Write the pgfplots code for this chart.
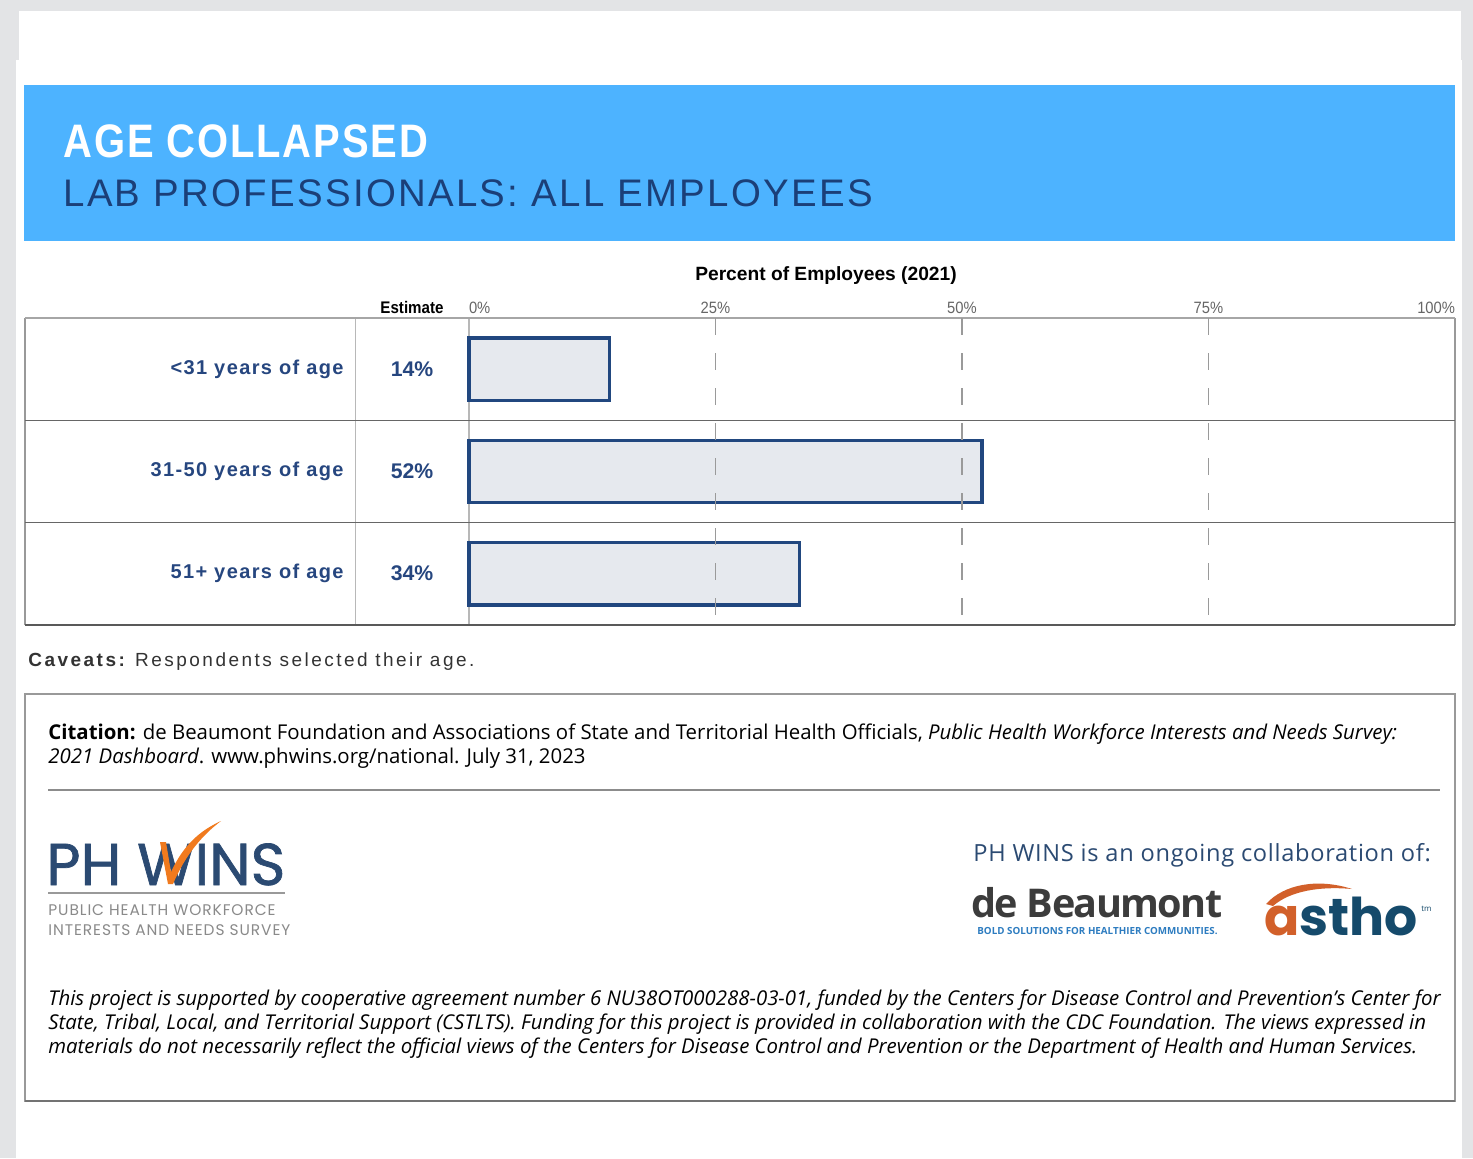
\documentclass[border=0pt]{standalone}
\usepackage{pgfplots}
\pgfplotsset{compat=1.18}
\usepackage{fontspec}
\setmainfont{Open Sans}
\newfontfamily\arial{Liberation Sans}
\newfontfamily\arialS[LetterSpace=7]{Liberation Sans}
\newfontfamily\titlefont[FakeStretch=0.85,LetterSpace=4]{Liberation Sans}
\newfontfamily\subfont[LetterSpace=6]{Liberation Sans}
\newfontfamily\capfont[LetterSpace=13]{Liberation Sans}
\newfontfamily\tickfont[FakeStretch=0.9]{Liberation Sans}
\newfontfamily\logofont[FakeBold=1.2]{Poppins}
\newfontfamily\asthofont{Poppins}
\newfontfamily\logosmall[LetterSpace=6]{Poppins}
\newfontfamily\collab[LetterSpace=3]{Open Sans}
\newfontfamily\beaufont[LetterSpace=-4]{Open Sans}

\definecolor{bggray}{HTML}{E3E4E6}
\definecolor{banner}{HTML}{4DB3FF}
\definecolor{navy}{HTML}{1B3F78}
\definecolor{rowlab}{HTML}{26467F}
\definecolor{barline}{HTML}{21477F}
\definecolor{barfill}{HTML}{E6E9EE}
\definecolor{gridgray}{HTML}{9A9A9A}
\definecolor{ticktext}{HTML}{666666}
\definecolor{logoblue}{HTML}{2B4A72}
\definecolor{swoosh}{HTML}{F07A1E}
\definecolor{asthoor}{HTML}{D2602A}
\definecolor{asthoblue}{HTML}{154A6B}
\definecolor{beau}{HTML}{3C3C3C}
\definecolor{beaublue}{HTML}{2D7CC0}
\definecolor{subgray}{HTML}{8A8A8A}

\begin{document}
\begin{tikzpicture}
\begin{scope}[x=0.5pt,y=-0.5pt]
% page background
\fill[bggray] (0,0) rectangle (1473,1158);
\fill[white] (19,11) rectangle (1461,60);
\fill[white] (16,60) rectangle (1462,1158);
% banner
\fill[banner] (24,85) rectangle (1455,241);
\node[anchor=base west, inner sep=0pt, text=white] at (63,157)
  {\titlefont\bfseries\fontsize{23.5}{27}\selectfont AGE COLLAPSED};
\node[anchor=base west, inner sep=0pt, text=navy] at (63,206)
  {\subfont\fontsize{19.2}{23}\selectfont LAB PROFESSIONALS: ALL EMPLOYEES};
% headers
\node[inner sep=0pt, anchor=base] at (826,280)
  {\arial\bfseries\fontsize{9.6}{11}\selectfont Percent of Employees (2021)};
\node[inner sep=0pt, anchor=base] at (412,313)
  {\tickfont\bfseries\fontsize{8.4}{10}\selectfont Estimate};
% table lines
\draw[draw=black!40, line width=0.6pt] (25,318)--(25,625);
\draw[draw=black!40, line width=0.6pt] (1455,318)--(1455,625);
\draw[draw=black!28, line width=0.6pt] (355.5,318)--(355.5,625);
\draw[draw=black!28, line width=0.6pt] (469,318)--(469,625);
\draw[draw=black!35, line width=1.1pt] (25,318)--(1455,318);
\draw[draw=black!60, line width=0.9pt] (25,420.5)--(1455,420.5);
\draw[draw=black!60, line width=0.9pt] (25,522.5)--(1455,522.5);
\draw[draw=black!65, line width=1.4pt] (25,625)--(1455,625);
% estimates
\node[text=rowlab, inner sep=0pt] at (412,369) {\arial\bfseries\fontsize{10.6}{12}\selectfont 14\%};
\node[text=rowlab, inner sep=0pt] at (412,471) {\arial\bfseries\fontsize{10.6}{12}\selectfont 52\%};
\node[text=rowlab, inner sep=0pt] at (412,573) {\arial\bfseries\fontsize{10.6}{12}\selectfont 34\%};
\end{scope}

\begin{axis}[
  at={(234.5pt,-159pt)}, anchor=north west,
  scale only axis, width=493pt, height=153.5pt,
  xmin=0, xmax=100, ymin=0.5, ymax=3.5, y dir=reverse,
  axis line style={draw=none},
  xbar, bar width=0.61,
  xtick={25,50,75}, xticklabels={25\%,50\%,75\%},
  extra x ticks={0,100},
  extra x tick labels={\makebox[0pt][l]{0\%},\makebox[0pt][r]{100\%}},
  extra x tick style={grid=none},
  xticklabel pos=upper,
  xticklabel style={font=\tickfont\fontsize{8.2}{10}\selectfont, text=ticktext, anchor=base, inner sep=0pt, yshift=2.5pt},
  major tick length=0pt,
  xmajorgrids,
  grid style={draw=gridgray, line width=0.55pt, dash pattern=on 8.33pt off 9.17pt},
  ytick={1,2,3},
  yticklabels={<31 years of age, 31-50 years of age, 51+ years of age},
  yticklabel style={font=\arialS\bfseries\fontsize{10}{12}\selectfont, text=rowlab, anchor=east, inner sep=0pt, xshift=-62.5pt},
  axis on top,
  clip=false,
]
\addplot[draw=barline, fill=barfill, line width=1.75pt] coordinates {(14.25,1) (52.05,2) (33.5,3)};
\end{axis}

\begin{scope}[x=0.5pt,y=-0.5pt]
% caveats
\node[anchor=base west, inner sep=0pt, text=black!80] at (28,666)
  {\capfont\fontsize{9.5}{11}\selectfont\bfseries Caveats:\mdseries{} Respondents selected their age.};
% citation box
\draw[draw=black!40, line width=0.6pt] (25,694) rectangle (1455,1101);
\draw[draw=black!55, line width=0.8pt] (25,1101)--(1455,1101);
\node[anchor=base west, inner sep=0pt] at (48,739)
  {\fontsize{10.2}{12}\selectfont\textbf{Citation:} de Beaumont Foundation and Associations of State and Territorial Health Officials, \textit{Public Health Workforce Interests and Needs Survey:}};
\node[anchor=base west, inner sep=0pt] at (48,763)
  {\fontsize{10.2}{12}\selectfont\textit{2021 Dashboard}. www.phwins.org/national. July 31, 2023};
\draw[draw=black!45, line width=0.7pt] (48,790)--(1440,790);
% PH WINS logo
\node[anchor=base west, inner sep=0pt, text=logoblue] at (46,885)
  {\logofont\fontsize{29.5}{32}\selectfont PH WINS};
\fill[swoosh] (160,842) -- (166,842) -- (171,872) .. controls (183,846) and (199,831) .. (221,821)
   .. controls (201,836) and (185,856) .. (173,884) -- (168,884) -- cycle;
\draw[draw=black!40, line width=0.8pt] (48,893)--(285,893);
\node[anchor=base west, inner sep=0pt, text=subgray] at (48,915)
  {\logosmall\fontsize{7.7}{9}\selectfont PUBLIC HEALTH WORKFORCE};
\node[anchor=base west, inner sep=0pt, text=subgray] at (48,935)
  {\logosmall\fontsize{7.7}{9}\selectfont INTERESTS AND NEEDS SURVEY};
% collaboration
\node[anchor=base west, inner sep=0pt, text=logoblue] at (973,861)
  {\collab\fontsize{11.8}{14}\selectfont PH WINS is an ongoing collaboration of:};
\node[anchor=base west, inner sep=0pt, text=beau] at (971,917)
  {\beaufont\bfseries\fontsize{19.8}{22}\selectfont de Beaumont};
\node[anchor=base west, inner sep=0pt, text=beaublue] at (977,934)
  {\bfseries\fontsize{4.9}{6}\selectfont BOLD SOLUTIONS FOR HEALTHIER COMMUNITIES.};
% astho
\fill[asthoor] (1266,904) .. controls (1284,884) and (1318,878) .. (1352,889)
   .. controls (1320,886) and (1290,891) .. (1273,906) -- cycle;
\node[anchor=base west, inner sep=0pt] at (1264,935)
  {\asthofont\bfseries\fontsize{26}{29}\selectfont\textcolor{asthoor}{a}\textcolor{asthoblue}{stho}};
\node[anchor=base west, inner sep=0pt, text=asthoblue] at (1421,911)
  {\fontsize{4}{5}\selectfont tm};
% disclaimer
\node[anchor=base west, inner sep=0pt] at (48,1005)
  {\fontsize{10.2}{12}\selectfont\itshape This project is supported by cooperative agreement number 6 NU38OT000288-03-01, funded by the Centers for Disease Control and Prevention's Center for};
\node[anchor=base west, inner sep=0pt] at (48,1029)
  {\fontsize{10.2}{12}\selectfont\itshape State, Tribal, Local, and Territorial Support (CSTLTS). Funding for this project is provided in collaboration with the CDC Foundation. The views expressed in};
\node[anchor=base west, inner sep=0pt] at (48,1053)
  {\fontsize{10.2}{12}\selectfont\itshape materials do not necessarily reflect the official views of the Centers for Disease Control and Prevention or the Department of Health and Human Services.};
\end{scope}
\end{tikzpicture}
\end{document}
